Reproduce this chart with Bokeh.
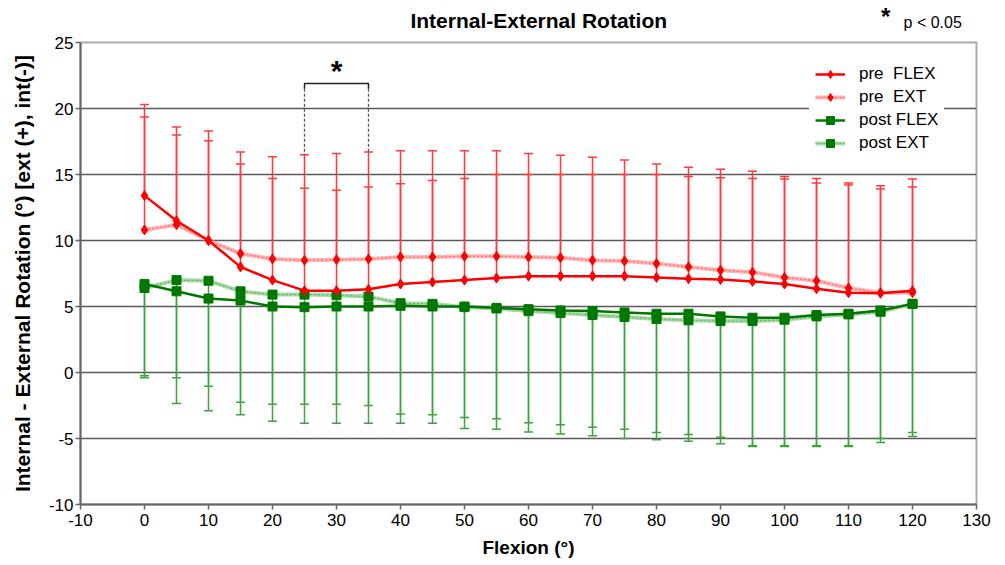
from bokeh.plotting import figure
from bokeh.layouts import column
from bokeh.models import Range1d, Label, Legend, LegendItem, FixedTicker, ColumnDataSource
from bokeh.core.properties import value
from bokeh.embed import file_html
from bokeh.resources import INLINE

# ---------------- data ----------------
flexion = [0, 5, 10, 15, 20, 25, 30, 35, 40, 45, 50, 55, 60, 65, 70, 75, 80, 85, 90, 95, 100, 105, 110, 115, 120]

pre_flex = [13.4, 11.5, 10.0, 8.0, 7.0, 6.2, 6.2, 6.3, 6.7, 6.85, 7.0, 7.15, 7.3, 7.3, 7.3, 7.3, 7.2, 7.1, 7.05, 6.9, 6.7, 6.35, 6.05, 6.0, 6.2]
pre_ext = [10.8, 11.2, 10.0, 9.0, 8.6, 8.5, 8.55, 8.6, 8.75, 8.75, 8.8, 8.8, 8.75, 8.7, 8.5, 8.45, 8.25, 8.0, 7.75, 7.6, 7.2, 6.95, 6.4, 6.05, 6.05]
post_flex = [6.7, 6.15, 5.6, 5.45, 5.0, 4.95, 5.0, 5.0, 5.05, 5.0, 5.0, 4.9, 4.8, 4.7, 4.65, 4.55, 4.45, 4.45, 4.25, 4.15, 4.15, 4.35, 4.45, 4.7, 5.2]
post_ext = [6.4, 7.0, 6.95, 6.15, 5.9, 5.9, 5.85, 5.75, 5.25, 5.2, 4.95, 4.85, 4.65, 4.5, 4.35, 4.2, 4.05, 3.95, 3.9, 3.9, 4.0, 4.25, 4.4, 4.6, 5.2]

# upper ends of pre error bars (mean + SD)
pre_flex_hi = [20.3, 18.6, 18.3, 16.7, 16.35, 16.5, 16.6, 16.7, 16.8, 16.8, 16.8, 16.8, 16.6, 16.45, 16.3, 16.1, 15.8, 15.55, 15.4, 15.25, 14.85, 14.7, 14.35, 14.15, 14.65]
pre_ext_hi = [19.35, 18.0, 17.55, 15.8, 14.7, 13.95, 13.8, 14.05, 14.3, 14.55, 14.7, 15.0, 15.0, 15.0, 15.0, 15.0, 15.0, 14.85, 14.75, 14.7, 14.65, 14.35, 14.2, 13.9, 14.05]
# lower ends of post error bars (mean - SD)
post_flex_lo = [-0.25, -0.4, -1.05, -2.25, -2.4, -2.4, -2.4, -2.5, -3.15, -3.2, -3.4, -3.5, -3.8, -3.95, -4.15, -4.3, -4.55, -4.7, -4.9, -5.55, -5.55, -5.55, -5.55, -5.0, -4.55]
post_ext_lo = [-0.4, -2.35, -2.9, -3.2, -3.7, -3.85, -3.85, -3.85, -3.85, -3.85, -4.25, -4.3, -4.5, -4.65, -4.8, -5.0, -5.1, -5.2, -5.4, -5.6, -5.6, -5.6, -5.6, -5.3, -4.85]

x_ticks = [-10, 0, 10, 20, 30, 40, 50, 60, 70, 80, 90, 100, 110, 120, 130]
y_ticks = [-10, -5, 0, 5, 10, 15, 20, 25]

sig_range = [25, 35]
sig_bar_level = 21.9
sig_bar_tops = [16.5, 16.7]

title_text = "Internal-External Rotation"
sig_note = "p < 0.05"
x_label = "Flexion (°)"
y_label = "Internal - External Rotation (°) [ext (+), int(-)]"
legend_labels = ["pre\u00a0 FLEX", "pre\u00a0 EXT", "post FLEX", "post EXT"]

# ---------------- colours ----------------
RED = "#ff0000"
RED_LIGHT = "#ffb3b3"
RED_ERR = "#ff3b3b"
GREEN = "#007800"
GREEN_LIGHT = "#a8d8a8"
GREEN_ERR = "#3fa33f"
BORDER = "#ababab"
FONT = "Liberation Sans"

x_lo, x_hi = x_ticks[0], x_ticks[-1]
y_lo, y_hi = y_ticks[0], y_ticks[-1]

W = 1005
LEFT, RIGHT = 80, 29
HEADER_H = 32

x_range = Range1d(x_lo, x_hi)

# ---------------- header strip (title + significance note) ----------------
hdr = figure(width=W, height=HEADER_H, output_backend="svg", toolbar_location=None,
             x_range=x_range, y_range=Range1d(0, HEADER_H),
             min_border_left=LEFT, min_border_right=RIGHT, min_border_top=0, min_border_bottom=0)
hdr.axis.visible = False
hdr.grid.visible = False
hdr.outline_line_color = None
hdr.background_fill_color = "white"
hdr.border_fill_color = "white"
hdr.text(x=[61.6], y=[12], text=[title_text], text_align="center", text_baseline="middle",
         text_font=value(FONT), text_font_style="bold", text_font_size="21px", text_color="black")
hdr.text(x=[115.8], y=[2.5], text=["*"], text_align="center", text_baseline="bottom",
         text_font=value(FONT), text_font_style="bold", text_font_size="24px", text_color="black")
hdr.text(x=[118.6], y=[10], text=[sig_note], text_align="left", text_baseline="middle",
         text_font=value(FONT), text_font_size="16px", text_color="black")

# ---------------- main chart ----------------
p = figure(width=W, height=565 - HEADER_H, output_backend="svg", toolbar_location=None,
           x_range=x_range, y_range=Range1d(y_lo, y_hi),
           min_border_left=LEFT, min_border_right=RIGHT, min_border_top=42 - HEADER_H, min_border_bottom=61)
p.background_fill_color = "white"
p.border_fill_color = "white"
p.outline_line_color = BORDER
p.outline_line_width = 2

p.xgrid.visible = False
p.ygrid.grid_line_color = "#5a5a5a"
p.ygrid.grid_line_width = 1.6
p.ygrid.bounds = (-6, 21)

for ax in (p.xaxis[0], p.yaxis[0]):
    ax.axis_line_color = "#666666"
    ax.axis_line_width = 2
    ax.major_tick_line_color = "#666666"
    ax.major_tick_line_width = 1.5
    ax.major_tick_out = 5
    ax.major_tick_in = 0
    ax.minor_tick_line_color = None
    ax.major_label_text_font = FONT
    ax.major_label_text_font_size = "17px"
    ax.major_label_text_color = "black"
    ax.axis_label_text_font = FONT
    ax.axis_label_text_font_style = "bold"
    ax.axis_label_text_color = "black"

p.xaxis.axis_label_text_font_size = "19px"
p.yaxis.axis_label_text_font_size = "21px"
p.xaxis.ticker = FixedTicker(ticks=x_ticks)
p.yaxis.ticker = FixedTicker(ticks=y_ticks)
p.ygrid.ticker = FixedTicker(ticks=y_ticks)
p.xaxis.major_label_overrides = {t: str(t) for t in x_ticks}
p.yaxis.major_label_overrides = {t: str(t) for t in y_ticks}
p.xaxis.axis_label = x_label
p.yaxis.axis_label = y_label
p.xaxis.major_label_standoff = 4
p.xaxis.axis_label_standoff = 8
p.yaxis.major_label_standoff = 2
p.yaxis.axis_label_standoff = 12

src = ColumnDataSource(dict(x=flexion, pre_flex=pre_flex, pre_ext=pre_ext,
                            post_flex=post_flex, post_ext=post_ext,
                            pre_flex_hi=pre_flex_hi, pre_ext_hi=pre_ext_hi,
                            post_flex_lo=post_flex_lo, post_ext_lo=post_ext_lo))

# ---------------- error bars ----------------
p.segment(x0="x", y0="pre_flex", x1="x", y1="pre_flex_hi", source=src, line_color=RED_ERR, line_width=1.5)
p.segment(x0="x", y0="pre_ext", x1="x", y1="pre_ext_hi", source=src, line_color=RED_ERR, line_width=1.5)
p.scatter(x="x", y="pre_flex_hi", source=src, marker="dash", size=9, line_color=RED_ERR, line_width=1.5)
p.scatter(x="x", y="pre_ext_hi", source=src, marker="dash", size=9, line_color=RED_ERR, line_width=1.5)

p.segment(x0="x", y0="post_flex", x1="x", y1="post_flex_lo", source=src, line_color=GREEN_ERR, line_width=1.5)
p.segment(x0="x", y0="post_ext", x1="x", y1="post_ext_lo", source=src, line_color=GREEN_ERR, line_width=1.5)
p.scatter(x="x", y="post_flex_lo", source=src, marker="dash", size=9, line_color=GREEN_ERR, line_width=1.5)
p.scatter(x="x", y="post_ext_lo", source=src, marker="dash", size=9, line_color=GREEN_ERR, line_width=1.5)

# ---------------- series ----------------
r_pe_base = p.line(x="x", y="pre_ext", source=src, line_color=RED_LIGHT, line_width=4)
r_pe_dash = p.line(x="x", y="pre_ext", source=src, line_color="#ff7070", line_width=1.2, line_dash="2 2")
r_pe_m = p.scatter(x="x", y="pre_ext", source=src, marker="diamond", size=10, fill_color=RED, line_color=RED)

r_qe_base = p.line(x="x", y="post_ext", source=src, line_color=GREEN_LIGHT, line_width=4)
r_qe_dash = p.line(x="x", y="post_ext", source=src, line_color="#5cb85c", line_width=1.2, line_dash="2 2")
r_qe_m = p.scatter(x="x", y="post_ext", source=src, marker="square", size=9, fill_color=GREEN, line_color=GREEN)

r_pf = p.line(x="x", y="pre_flex", source=src, line_color=RED, line_width=2.5)
r_pf_m = p.scatter(x="x", y="pre_flex", source=src, marker="diamond", size=10, fill_color=RED, line_color=RED)

r_qf = p.line(x="x", y="post_flex", source=src, line_color=GREEN, line_width=2.5)
r_qf_m = p.scatter(x="x", y="post_flex", source=src, marker="square", size=9, fill_color=GREEN, line_color=GREEN)

# ---------------- significance bracket ----------------
p.line(x=[sig_range[0], sig_range[0], sig_range[1], sig_range[1]],
       y=[sig_bar_level - 0.4, sig_bar_level, sig_bar_level, sig_bar_level - 0.4],
       line_color="#222222", line_width=1.5)
p.segment(x0=sig_range, y0=[sig_bar_level - 0.4] * 2, x1=sig_range, y1=sig_bar_tops,
          line_color="#555555", line_width=1.3, line_dash="3 2")
p.add_layout(Label(x=sum(sig_range) / 2, y=sig_bar_level - 0.3, text="*", text_align="center",
                   text_baseline="bottom", text_font=FONT, text_font_style="bold",
                   text_font_size="30px", text_color="black"))

# ---------------- legend ----------------
legend = Legend(items=[
    LegendItem(label=legend_labels[0], renderers=[r_pf, r_pf_m]),
    LegendItem(label=legend_labels[1], renderers=[r_pe_base, r_pe_dash, r_pe_m]),
    LegendItem(label=legend_labels[2], renderers=[r_qf, r_qf_m]),
    LegendItem(label=legend_labels[3], renderers=[r_qe_base, r_qe_dash, r_qe_m]),
], location=(729, 345))
legend.label_text_font = FONT
legend.label_text_font_size = "17px"
legend.label_text_color = "black"
legend.glyph_width = 30
legend.glyph_height = 20
legend.label_height = 20
legend.spacing = 3
legend.padding = 6
legend.margin = 0
legend.label_standoff = 14
legend.border_line_alpha = 0
legend.background_fill_color = "white"
legend.background_fill_alpha = 1
p.add_layout(legend)

layout = column(hdr, p, spacing=0)
open("out.html", "w").write(file_html(layout, INLINE))
